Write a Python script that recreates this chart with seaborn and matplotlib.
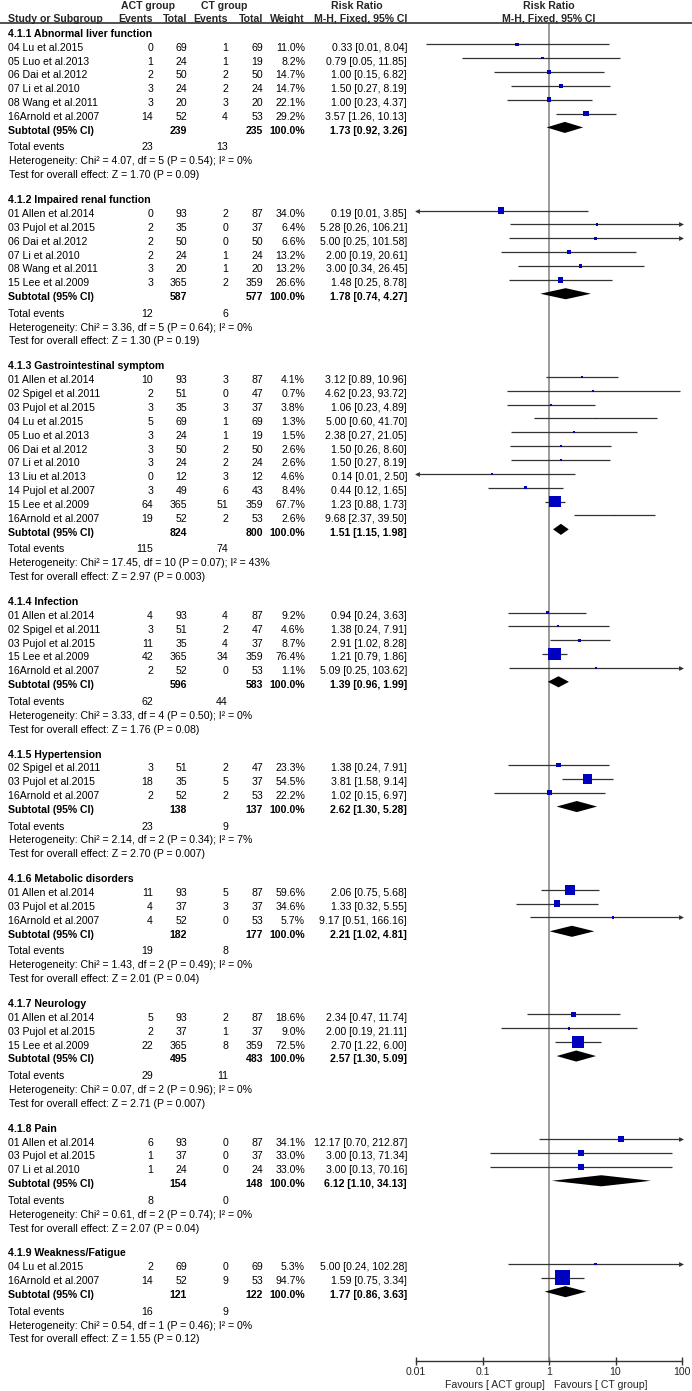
import numpy as np
import pandas as pd
import matplotlib
matplotlib.use("Agg")
import matplotlib.pyplot as plt
import matplotlib.transforms as mtrans
import seaborn as sns

# -----------------------------
# Data
# -----------------------------
groups = ["4.1.1 Abnormal liver function", "4.1.2 Impaired renal function",
          "4.1.3 Gastrointestinal symptom", "4.1.4 Infection", "4.1.5 Hypertension",
          "4.1.6 Metabolic disorders", "4.1.7 Neurology", "4.1.8 Pain",
          "4.1.9 Weakness/Fatigue"]

study = ["04 Lu et al.2015", "05 Luo et al.2013", "06 Dai et al.2012", "07 Li et al.2010",
         "08 Wang et al.2011", "16Arnold et al.2007",
         "01 Allen et al.2014", "03 Pujol et al.2015", "06 Dai et al.2012", "07 Li et al.2010",
         "08 Wang et al.2011", "15 Lee et al.2009",
         "01 Allen et al.2014", "02 Spigel et al.2011", "03 Pujol et al.2015", "04 Lu et al.2015",
         "05 Luo et al.2013", "06 Dai et al.2012", "07 Li et al.2010", "13 Liu et al.2013",
         "14 Pujol et al.2007", "15 Lee et al.2009", "16Arnold et al.2007",
         "01 Allen et al.2014", "02 Spigel et al.2011", "03 Pujol et al.2015", "15 Lee et al.2009",
         "16Arnold et al.2007",
         "02 Spigel et al.2011", "03 Pujol et al.2015", "16Arnold et al.2007",
         "01 Allen et al.2014", "03 Pujol et al.2015", "16Arnold et al.2007",
         "01 Allen et al.2014", "03 Pujol et al.2015", "15 Lee et al.2009",
         "01 Allen et al.2014", "03 Pujol et al.2015", "07 Li et al.2010",
         "04 Lu et al.2015", "16Arnold et al.2007"]
grp = [0] * 6 + [1] * 6 + [2] * 11 + [3] * 5 + [4] * 3 + [5] * 3 + [6] * 3 + [7] * 3 + [8] * 2

act_ev = [0, 1, 2, 3, 3, 14,
          0, 2, 2, 2, 3, 3,
          10, 2, 3, 5, 3, 3, 3, 0, 3, 64, 19,
          4, 3, 11, 42, 2,
          3, 18, 2,
          11, 4, 4,
          5, 2, 22,
          6, 1, 1,
          2, 14]
act_n = [69, 24, 50, 24, 20, 52,
         93, 35, 50, 24, 20, 365,
         93, 51, 35, 69, 24, 50, 24, 12, 49, 365, 52,
         93, 51, 35, 365, 52,
         51, 35, 52,
         93, 37, 52,
         93, 37, 365,
         93, 37, 24,
         69, 52]
ct_ev = [1, 1, 2, 2, 3, 4,
         2, 0, 0, 1, 1, 2,
         3, 0, 3, 1, 1, 2, 2, 3, 6, 51, 2,
         4, 2, 4, 34, 0,
         2, 5, 2,
         5, 3, 0,
         2, 1, 8,
         0, 0, 0,
         0, 9]
ct_n = [69, 19, 50, 24, 20, 53,
        87, 37, 50, 24, 20, 359,
        87, 47, 37, 69, 19, 50, 24, 12, 43, 359, 53,
        87, 47, 37, 359, 53,
        47, 37, 53,
        87, 37, 53,
        87, 37, 359,
        87, 37, 24,
        69, 53]
weight = [11.0, 8.2, 14.7, 14.7, 22.1, 29.2,
          34.0, 6.4, 6.6, 13.2, 13.2, 26.6,
          4.1, 0.7, 3.8, 1.3, 1.5, 2.6, 2.6, 4.6, 8.4, 67.7, 2.6,
          9.2, 4.6, 8.7, 76.4, 1.1,
          23.3, 54.5, 22.2,
          59.6, 34.6, 5.7,
          18.6, 9.0, 72.5,
          34.1, 33.0, 33.0,
          5.3, 94.7]
rr = [0.33, 0.79, 1.00, 1.50, 1.00, 3.57,
      0.19, 5.28, 5.00, 2.00, 3.00, 1.48,
      3.12, 4.62, 1.06, 5.00, 2.38, 1.50, 1.50, 0.14, 0.44, 1.23, 9.68,
      0.94, 1.38, 2.91, 1.21, 5.09,
      1.38, 3.81, 1.02,
      2.06, 1.33, 9.17,
      2.34, 2.00, 2.70,
      12.17, 3.00, 3.00,
      5.00, 1.59]
lo = [0.014, 0.05, 0.15, 0.27, 0.23, 1.26,
      0.009, 0.26, 0.25, 0.19, 0.34, 0.25,
      0.89, 0.23, 0.23, 0.60, 0.27, 0.26, 0.27, 0.008, 0.12, 0.88, 2.37,
      0.24, 0.24, 1.02, 0.79, 0.25,
      0.24, 1.58, 0.15,
      0.75, 0.32, 0.51,
      0.47, 0.19, 1.22,
      0.70, 0.13, 0.13,
      0.24, 0.75]
hi = [8.04, 11.85, 6.82, 8.19, 4.37, 10.13,
      3.85, 106.21, 101.58, 20.61, 26.45, 8.78,
      10.96, 93.72, 4.89, 41.70, 21.05, 8.60, 8.19, 2.50, 1.65, 1.73, 39.50,
      3.63, 7.91, 8.28, 1.86, 103.62,
      7.91, 9.14, 6.97,
      5.68, 5.55, 166.16,
      11.74, 21.11, 6.00,
      212.87, 71.34, 70.16,
      102.28, 3.34]

sub_act_n = [239, 587, 824, 596, 138, 182, 495, 154, 121]
sub_ct_n = [235, 577, 800, 583, 137, 177, 483, 148, 122]
sub_rr = [1.73, 1.78, 1.51, 1.39, 2.62, 2.21, 2.57, 6.12, 1.77]
sub_lo = [0.92, 0.74, 1.15, 0.96, 1.30, 1.02, 1.30, 1.10, 0.86]
sub_hi = [3.26, 4.27, 1.98, 1.99, 5.28, 4.81, 5.09, 34.13, 3.63]
tot_act = [23, 12, 115, 62, 23, 19, 29, 8, 16]
tot_ct = [13, 6, 74, 44, 9, 8, 11, 0, 9]
chi2 = ["4.07", "3.36", "17.45", "3.33", "2.14", "1.43", "0.07", "0.61", "0.54"]
het_df = [5, 5, 10, 4, 2, 2, 2, 2, 1]
het_p = ["0.54", "0.64", "0.07", "0.50", "0.34", "0.49", "0.96", "0.74", "0.46"]
i2 = [0, 0, 43, 0, 7, 0, 0, 0, 0]
z_val = ["1.70", "1.30", "2.97", "1.76", "2.70", "2.01", "2.71", "2.07", "1.55"]
z_p = ["0.09", "0.19", "0.003", "0.08", "0.007", "0.04", "0.007", "0.04", "0.12"]

# -----------------------------
# Layout
# -----------------------------
W, H = 692, 1391
ROW0, ROWH = 30.4, 13.86      # pixel y of first row mark, row height
HEAD_Y = 23                   # header rule
AXIS_Y = 1361                 # forest x-axis
X_LEFT, X_RIGHT = 416, 682    # 0.01 and 100

# row index for every line of the table
row = 0
title_rows, study_rows, sub_rows = [], [], []
for g in range(len(groups)):
    title_rows.append(row)
    row += 1
    for i in range(len(study)):
        if grp[i] == g:
            study_rows.append(row)
            row += 1
    sub_rows.append(row)
    row += 5

df = pd.DataFrame({"study": study, "grp": grp, "row": study_rows, "rr": rr,
                   "lo": lo, "hi": hi, "weight": weight})
# square side roughly follows weight (pixels -> points^2)
df["area"] = ((1.5 + 0.145 * df["weight"]) * 0.72) ** 2

sns.set_theme(style="white")
plt.rcParams["font.family"] = ["Liberation Sans", "DejaVu Sans"]
FS = 7.6

fig = plt.figure(figsize=(W / 100, H / 100), dpi=100)
ax = fig.add_axes([X_LEFT / W, 1 - AXIS_Y / H, (X_RIGHT - X_LEFT) / W, (AXIS_Y - HEAD_Y) / H])
ax.set_xscale("log")
ax.set_xlim(0.01, 100)
ax.set_ylim((AXIS_Y - ROW0) / ROWH, (HEAD_Y - ROW0) / ROWH)

# CI lines, clipped to the axis with arrow heads
line_c = "#333333"
ax.hlines(df["row"], df["lo"].clip(0.01, 100), df["hi"].clip(0.01, 100), color=line_c, lw=0.9, zorder=2)
left = df[df["lo"] < 0.01]
right = df[df["hi"] > 100]
ax.plot(np.full(len(left), 0.0105), left["row"], ls="none", marker="<", ms=3.5, color=line_c, mew=0, clip_on=False)
ax.plot(np.full(len(right), 95.5), right["row"], ls="none", marker=">", ms=3.5, color=line_c, mew=0, clip_on=False)

amin, amax = df["area"].min(), df["area"].max()
sns.scatterplot(data=df, x="rr", y="row", size="area", sizes=(amin, amax), size_norm=(amin, amax),
                marker="s", color="#0000C0", linewidth=0, legend=False, ax=ax, zorder=3)

# subtotal diamonds
for g in range(len(groups)):
    y = sub_rows[g]
    ax.fill([sub_lo[g], sub_rr[g], sub_hi[g], sub_rr[g]], [y, y - 0.4, y, y + 0.4],
            color="black", lw=0, zorder=3)

ax.axvline(1, color="#808080", lw=1.1, zorder=1)
for s in ["left", "right", "top"]:
    ax.spines[s].set_visible(False)
ax.spines["bottom"].set_color("#333333")
ax.spines["bottom"].set_linewidth(1.0)
ax.set_xticks([0.01, 0.1, 1, 10, 100])
ax.set_xticklabels(["0.01", "0.1", "1", "10", "100"], fontsize=FS)
ax.xaxis.set_minor_locator(matplotlib.ticker.NullLocator())
ax.tick_params(axis="x", direction="inout", length=6, width=1.0, color="#333333", pad=1.5, bottom=True)
ax.set_yticks([])
ax.set_xlabel("")
ax.set_ylabel("")
ax.patch.set_alpha(0)

# -----------------------------
# Table text
# -----------------------------
tr = mtrans.offset_copy(mtrans.blended_transform_factory(fig.transFigure, ax.transData),
                        fig=fig, x=0, y=-3.4 * 0.72, units="points")


def put(xpx, y, s, ha="right", bold=False):
    fig.text(xpx / W, y, s, transform=tr, ha=ha, va="center", fontsize=FS,
             fontweight="bold" if bold else "normal", color="black")


for i in range(len(study)):
    y = study_rows[i]
    put(8, y, study[i], ha="left")
    put(153, y, str(act_ev[i]))
    put(187, y, str(act_n[i]))
    put(228, y, str(ct_ev[i]))
    put(263, y, str(ct_n[i]))
    put(305, y, f"{weight[i]:.1f}%")
    put(407, y, f"{rr[i]:.2f} [{lo[i]:.2f}, {hi[i]:.2f}]")

for g in range(len(groups)):
    put(8, title_rows[g], groups[g], ha="left", bold=True)
    y = sub_rows[g]
    put(8, y, "Subtotal (95% CI)", ha="left", bold=True)
    put(187, y, str(sub_act_n[g]), bold=True)
    put(263, y, str(sub_ct_n[g]), bold=True)
    put(305, y, "100.0%", bold=True)
    put(407, y, f"{sub_rr[g]:.2f} [{sub_lo[g]:.2f}, {sub_hi[g]:.2f}]", bold=True)
    put(8, y + 1.2, "Total events", ha="left")
    put(153, y + 1.2, str(tot_act[g]))
    put(228, y + 1.2, str(tot_ct[g]))
    put(9, y + 2.2, f"Heterogeneity: Chi\u00b2 = {chi2[g]}, df = {het_df[g]} (P = {het_p[g]}); I\u00b2 = {i2[g]}%", ha="left")
    put(9, y + 3.2, f"Test for overall effect: Z = {z_val[g]} (P = {z_p[g]})", ha="left")

# header
def head(xpx, ypx, s, ha):
    fig.text(xpx / W, 1 - ypx / H, s, ha=ha, va="center", fontsize=FS, fontweight="bold")


head(148, 6, "ACT group", "center")
head(224, 6, "CT group", "center")
head(357, 6, "Risk Ratio", "center")
head(549, 6, "Risk Ratio", "center")
head(8, 18.5, "Study or Subgroup", "left")
head(153, 18.5, "Events", "right")
head(187, 18.5, "Total", "right")
head(228, 18.5, "Events", "right")
head(263, 18.5, "Total", "right")
head(305, 18.5, "Weight", "right")
head(407, 18.5, "M-H, Fixed, 95% CI", "right")
head(549, 18.5, "M-H, Fixed, 95% CI", "center")
fig.add_artist(plt.Line2D([0, 1], [1 - HEAD_Y / H] * 2, transform=fig.transFigure, color="#333333", lw=1.2))

fig.text(545 / W, 1 - 1385 / H, "Favours [ ACT group]", ha="right", va="center", fontsize=FS)
fig.text(554 / W, 1 - 1385 / H, "Favours [ CT group]", ha="left", va="center", fontsize=FS)

fig.savefig("out.png", dpi=100)
